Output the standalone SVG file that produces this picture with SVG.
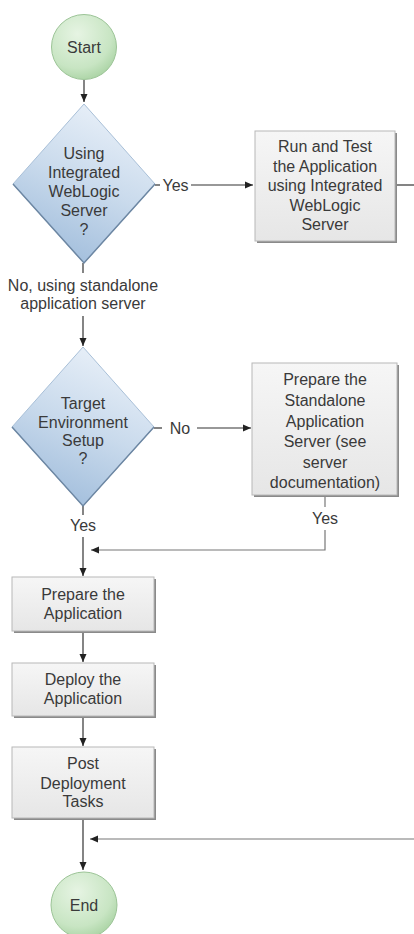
<svg xmlns="http://www.w3.org/2000/svg" width="414" height="934" viewBox="0 0 414 934">
<defs>
<radialGradient id="gCircle" cx="0.4" cy="0.3" r="0.75">
<stop offset="0" stop-color="#e6f4e3"/>
<stop offset="0.7" stop-color="#c8e5c3"/>
<stop offset="1" stop-color="#a8d2a2"/>
</radialGradient>
<linearGradient id="gDiamond" x1="0.7" y1="0" x2="0.3" y2="1">
<stop offset="0" stop-color="#eaf1f9"/>
<stop offset="0.5" stop-color="#c9daec"/>
<stop offset="1" stop-color="#9fbcdb"/>
</linearGradient>
<linearGradient id="gBox" x1="0" y1="0" x2="0" y2="1">
<stop offset="0" stop-color="#f6f6f6"/>
<stop offset="1" stop-color="#e6e6e6"/>
</linearGradient>
<marker id="arr" markerWidth="8" markerHeight="8" refX="8" refY="4" orient="auto" markerUnits="userSpaceOnUse">
<path d="M0,0.5 L8,4 L0,7.5 z" fill="#222"/>
</marker>
</defs>
<style>
text{font-family:"Liberation Sans",Arial,sans-serif;font-size:16px;fill:#3a3a3a;text-anchor:middle}
.circle{fill:url(#gCircle);stroke:#9cc497;stroke-width:1}
.diamond{fill:url(#gDiamond);stroke:#a9c0d8;stroke-width:1}
.dedge{fill:none;stroke:#6d87a3;stroke-width:1.5}
.box{fill:url(#gBox);stroke:#b8b8b8;stroke-width:1}
.shadow{fill:#8a8a8a}
.ln{fill:none;stroke:#333;stroke-width:1.2}
.ln2{fill:none;stroke:#777;stroke-width:1.2}
</style>

<g id="connectors">
<line class="ln" x1="84" y1="80" x2="84" y2="102" marker-end="url(#arr)"/>
<line class="ln" x1="155" y1="185" x2="160" y2="185"/>
<line class="ln" x1="191" y1="185" x2="253" y2="185" marker-end="url(#arr)"/>
<line class="ln" x1="396" y1="185" x2="414" y2="185"/>
<line class="ln" x1="83" y1="263" x2="83" y2="273"/>
<line class="ln" x1="83" y1="316" x2="83" y2="346" marker-end="url(#arr)"/>
<line class="ln" x1="154" y1="428" x2="162" y2="428"/>
<line class="ln" x1="197" y1="428" x2="251" y2="428" marker-end="url(#arr)"/>
<line class="ln2" x1="325" y1="496" x2="325" y2="507"/>
<polyline class="ln2" points="325,530 325,550 91,550" marker-end="url(#arr)"/>
<line class="ln" x1="83" y1="506" x2="83" y2="515"/>
<line class="ln" x1="83" y1="537" x2="83" y2="576" marker-end="url(#arr)"/>
<line class="ln" x1="83" y1="632" x2="83" y2="662" marker-end="url(#arr)"/>
<line class="ln" x1="83" y1="717" x2="83" y2="746" marker-end="url(#arr)"/>
<line class="ln" x1="83" y1="820" x2="83" y2="870" marker-end="url(#arr)"/>
<line class="ln2" x1="414" y1="839" x2="90" y2="839" marker-end="url(#arr)"/>
<text x="175.5" y="191">Yes</text>
<text x="83" y="291">No, using standalone</text>
<text x="83" y="309">application server</text>
<text x="180" y="434">No</text>
<text x="325" y="524">Yes</text>
<text x="83" y="531">Yes</text>
</g>

<g id="start">
<circle class="circle" cx="84" cy="47" r="32.5"/>
<text x="84" y="53">Start</text>
</g>

<g id="decision1">
<polygon class="diamond" points="84,104 155,184 84,263 13,184"/>
<polyline class="dedge" points="155,184 84,263 13,184"/>
<text x="84" y="159">Using</text>
<text x="84" y="178">Integrated</text>
<text x="84" y="197">WebLogic</text>
<text x="84" y="216">Server</text>
<text x="84" y="235">?</text>
</g>

<g id="runtest">
<rect class="shadow" x="257" y="133" width="140" height="110"/>
<rect class="box" x="255" y="131" width="140" height="110"/>
<text x="325" y="152">Run and Test</text>
<text x="325" y="172">the Application</text>
<text x="325" y="191">using Integrated</text>
<text x="325" y="211">WebLogic</text>
<text x="325" y="230">Server</text>
</g>

<g id="decision2">
<polygon class="diamond" points="83,347 154,427 83,506 12,427"/>
<polyline class="dedge" points="154,427 83,506 12,427"/>
<text x="83" y="409">Target</text>
<text x="83" y="428">Environment</text>
<text x="83" y="446">Setup</text>
<text x="83" y="464">?</text>
</g>

<g id="prepareserver">
<rect class="shadow" x="254" y="365" width="145" height="132"/>
<rect class="box" x="252" y="363" width="145" height="132"/>
<text x="325" y="385">Prepare the</text>
<text x="325" y="406">Standalone</text>
<text x="325" y="427">Application</text>
<text x="325" y="447">Server (see</text>
<text x="325" y="468">server</text>
<text x="325" y="488">documentation)</text>
</g>

<g id="prepareapp">
<rect class="shadow" x="14" y="579" width="142" height="54"/>
<rect class="box" x="12" y="577" width="142" height="54"/>
<text x="83" y="600">Prepare the</text>
<text x="83" y="619">Application</text>
</g>

<g id="deploy">
<rect class="shadow" x="14" y="665" width="142" height="53"/>
<rect class="box" x="12" y="663" width="142" height="53"/>
<text x="83" y="685">Deploy the</text>
<text x="83" y="704">Application</text>
</g>

<g id="post">
<rect class="shadow" x="14" y="749" width="142" height="71"/>
<rect class="box" x="12" y="747" width="142" height="71"/>
<text x="83" y="769">Post</text>
<text x="83" y="789">Deployment</text>
<text x="83" y="807">Tasks</text>
</g>

<g id="end">
<circle class="circle" cx="84" cy="905" r="33"/>
<text x="84" y="911">End</text>
</g>
</svg>
